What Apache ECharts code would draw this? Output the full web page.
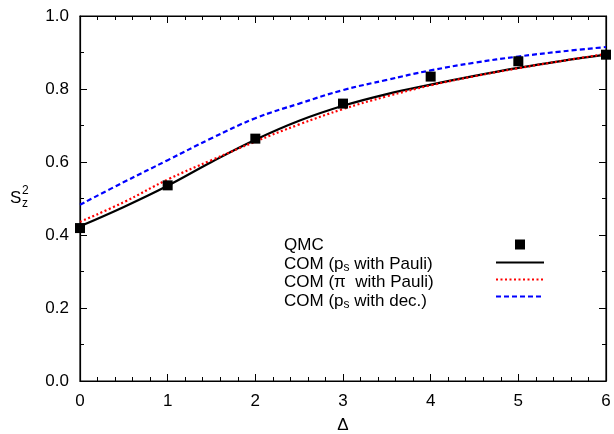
<!DOCTYPE html>
<html>
<head>
<meta charset="utf-8">
<script src="https://cdn.jsdelivr.net/npm/echarts@6/dist/echarts.min.js"></script>
<style>
html,body{margin:0;padding:0;background:#fff;}
#c{width:614px;height:434px;}
</style>
</head>
<body>
<div id="c"></div>
<script>
// ---- data ----
var qmcX = [0, 1, 2, 3, 4, 5, 6];
var qmcY = [0.419, 0.536, 0.664, 0.760, 0.834, 0.876, 0.894];

var curveX = [0, 0.5, 1, 1.5, 2, 2.5, 3, 3.5, 4, 4.5, 5, 5.5, 6];
var psPauliY = [0.424, 0.477, 0.535, 0.600, 0.661, 0.713, 0.754, 0.786, 0.812, 0.836, 0.858, 0.877, 0.894];
var piPauliY = [0.436, 0.490, 0.552, 0.605, 0.656, 0.703, 0.745, 0.780, 0.810, 0.835, 0.857, 0.877, 0.896];
var psDecY   = [0.483, 0.545, 0.605, 0.665, 0.720, 0.760, 0.797, 0.825, 0.851, 0.872, 0.889, 0.903, 0.915];

var xTicks = [0, 1, 2, 3, 4, 5, 6];
var yTicks = [0.0, 0.2, 0.4, 0.6, 0.8, 1.0];

var legendNames = ['QMC', 'ps_pauli', 'pi_pauli', 'ps_dec'];
var legendLabels = {
  'QMC': 'QMC',
  'ps_pauli': 'COM (p{s|s} with Pauli)',
  'pi_pauli': 'COM (π  with Pauli)',
  'ps_dec': 'COM (p{s|s} with dec.)'
};

function pairs(xs, ys) { return xs.map(function (x, i) { return [x, ys[i]]; }); }

var FONT = 'Liberation Sans, Arial, Helvetica, sans-serif';
var chart = echarts.init(document.getElementById('c'));

function makeAxis(extra, splitN) {
  return Object.assign({
    show: true,
    axisLine: { show: true, onZero: false, lineStyle: { color: '#000', width: 1.2 } },
    splitLine: { show: false },
    axisTick: { show: true, inside: true, length: 7, lineStyle: { color: '#000', width: 1 } },
    minorTick: { show: true, splitNumber: splitN, length: 4, lineStyle: { color: '#000', width: 1 } }
  }, extra);
}

var richSub = {
  s: { fontSize: 12, fontFamily: FONT, color: '#000', lineHeight: 8, padding: [8, 0, 0, 0] }
};

chart.setOption({
  animation: false,
  backgroundColor: '#fff',
  grid: { left: 80, right: 8, top: 16, bottom: 53, containLabel: false, outerBoundsMode: 'none',
          show: true, borderColor: '#000', borderWidth: 1.2, backgroundColor: 'transparent' },
  xAxis: [
    makeAxis({
      type: 'value', min: 0, max: 6, interval: 1, position: 'bottom',
      axisLabel: { color: '#000', fontSize: 17, fontFamily: FONT, margin: 12,
        formatter: function (v) { return xTicks.indexOf(v) >= 0 ? String(v) : ''; } },
      name: 'Δ', nameLocation: 'middle', nameGap: 36,
      nameTextStyle: { color: '#000', fontSize: 17, fontFamily: FONT }
    }, 5),
    makeAxis({
      type: 'value', min: 0, max: 6, interval: 1, position: 'top', gridIndex: 0,
      axisLabel: { show: false }
    }, 5)
  ],
  yAxis: [
    makeAxis({
      type: 'value', min: 0, max: 1, interval: 0.2, position: 'left',
      axisLabel: { color: '#000', fontSize: 17, fontFamily: FONT, margin: 11,
        formatter: function (v) { return v.toFixed(1); } }
    }, 2),
    makeAxis({
      type: 'value', min: 0, max: 1, interval: 0.2, position: 'right', gridIndex: 0,
      axisLabel: { show: false }
    }, 2)
  ],
  legend: [
    {
      // text column
      orient: 'vertical', left: 279, top: 237, padding: 0,
      itemWidth: 0, itemHeight: 12, itemGap: 0, itemTextGap: 0,
      icon: 'none',
      textStyle: { color: '#000', fontSize: 17, fontFamily: FONT, lineHeight: 15.8, rich: richSub },
      formatter: function (name) { return legendLabels[name]; },
      data: legendNames
    },
    {
      // sample column
      orient: 'vertical', left: 495, top: 239.5, padding: 0,
      itemWidth: 48, itemHeight: 10, itemGap: 9, itemTextGap: 0,
      textStyle: { fontSize: 1, lineHeight: 1 },
      formatter: function () { return ''; },
      itemStyle: { opacity: 0 },
      data: [
        { name: 'QMC', icon: 'path://M0,0h10v10h-10z', itemStyle: { opacity: 1, color: '#000' } },
        { name: 'ps_pauli' },
        { name: 'pi_pauli' },
        { name: 'ps_dec' }
      ]
    }
  ],
  graphic: [
    { type: 'text', left: 10, top: 190, style: { text: 'S', fontSize: 17, fontFamily: FONT, fill: '#000' } },
    { type: 'text', left: 22, top: 185, style: { text: '2', fontSize: 12, fontFamily: FONT, fill: '#000' } },
    { type: 'text', left: 22, top: 198, style: { text: 'z', fontSize: 12, fontFamily: FONT, fill: '#000' } }
  ],
  series: [
    {
      name: 'ps_pauli', type: 'line', data: pairs(curveX, psPauliY), smooth: 0.4,
      symbol: 'none', lineStyle: { color: '#000', width: 2.2 }, itemStyle: { color: '#000' }, z: 3
    },
    {
      name: 'pi_pauli', type: 'line', data: pairs(curveX, piPauliY), smooth: 0.4,
      symbol: 'none', lineStyle: { color: '#ff0000', width: 2.2, type: [2, 2.5] }, itemStyle: { color: '#ff0000' }, z: 4
    },
    {
      name: 'ps_dec', type: 'line', data: pairs(curveX, psDecY), smooth: 0.4,
      symbol: 'none', lineStyle: { color: '#0000ff', width: 2.2, type: [5, 3] }, itemStyle: { color: '#0000ff' }, z: 4
    },
    {
      name: 'QMC', type: 'scatter', xAxisIndex: 1, yAxisIndex: 1,
      data: pairs(qmcX, qmcY), symbol: 'rect', symbolSize: 10,
      itemStyle: { color: '#000', opacity: 1 }, z: 5
    }
  ]
});
</script>
</body>
</html>
